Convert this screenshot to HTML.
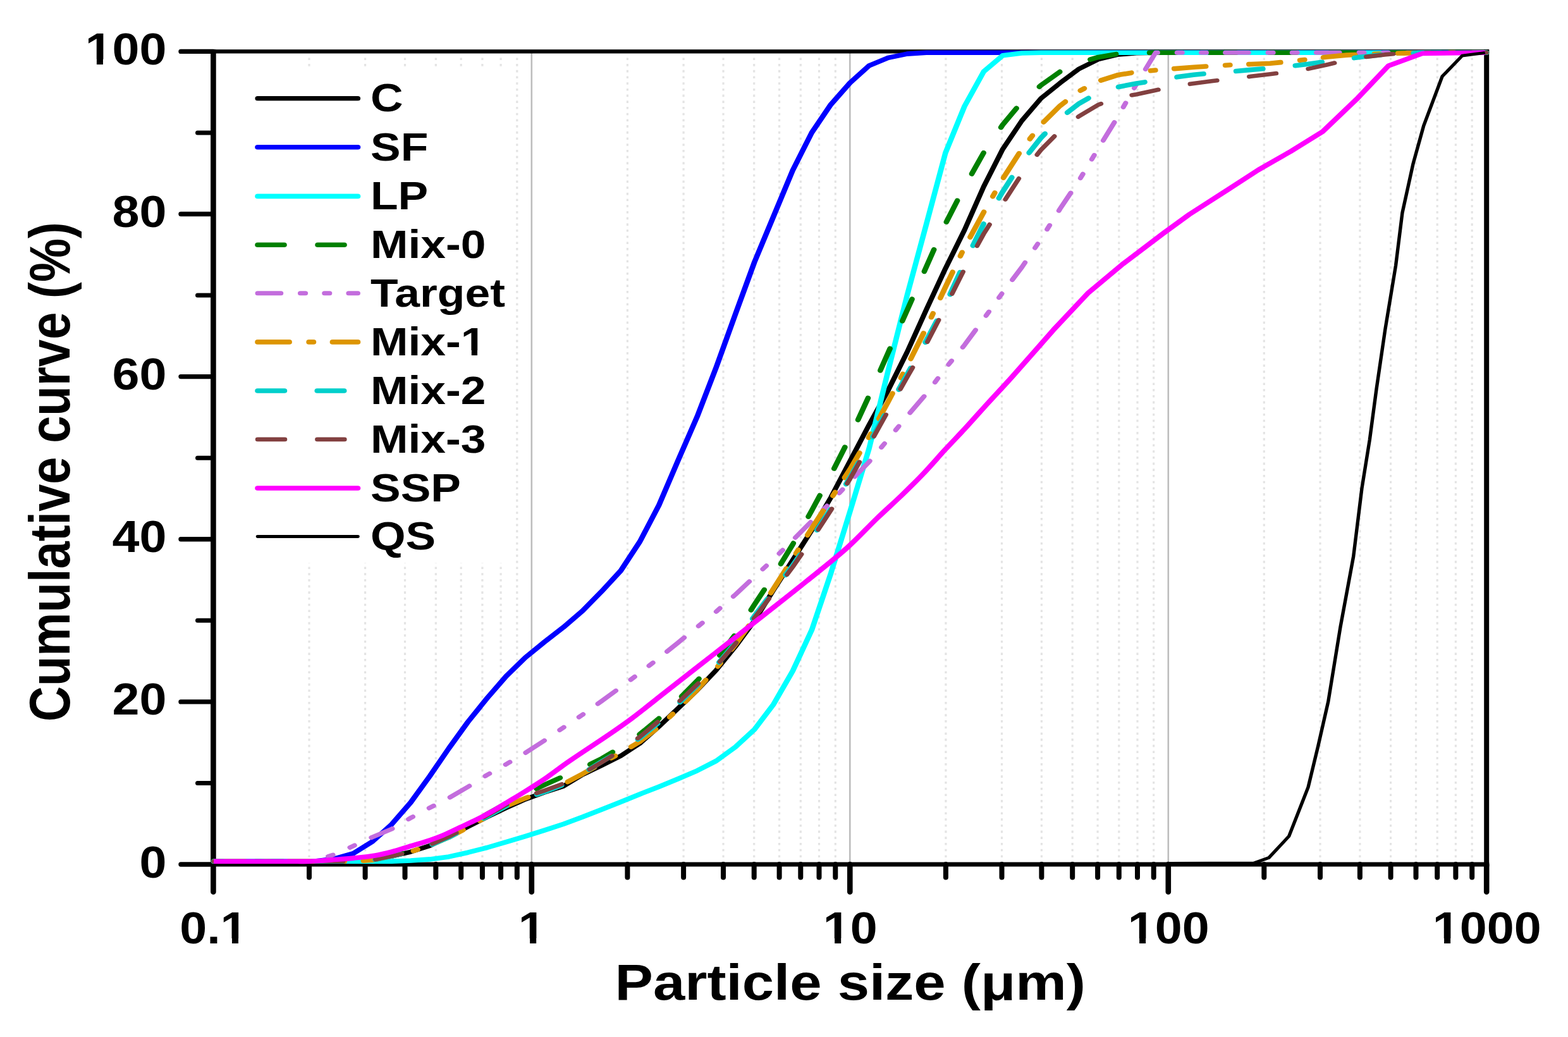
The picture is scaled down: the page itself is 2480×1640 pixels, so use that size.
<!DOCTYPE html><html><head><meta charset="utf-8"><title>Cumulative curve</title>
<style>html,body{margin:0;padding:0;background:#fff;}body{width:2480px;height:1640px;overflow:hidden;}svg{display:block;}text{font-family:"Liberation Sans",Arial,sans-serif;font-weight:bold;fill:#000;}</style></head><body>
<svg xmlns="http://www.w3.org/2000/svg" width="2480" height="1640" viewBox="0 0 2480 1640">
<rect x="0" y="0" width="2480" height="1640" fill="#fff"/>
<path d="M489,91.4 V1363 M577.6,91.4 V1363 M640.5,91.4 V1363 M689.3,91.4 V1363 M729.2,91.4 V1363 M762.9,91.4 V1363 M792.1,91.4 V1363 M817.8,91.4 V1363 M992.4,91.4 V1363 M1081.1,91.4 V1363 M1144,91.4 V1363 M1192.7,91.4 V1363 M1232.6,91.4 V1363 M1266.3,91.4 V1363 M1295.5,91.4 V1363 M1321.3,91.4 V1363 M1495.9,91.4 V1363 M1584.5,91.4 V1363 M1647.4,91.4 V1363 M1696.2,91.4 V1363 M1736.1,91.4 V1363 M1769.8,91.4 V1363 M1799,91.4 V1363 M1824.7,91.4 V1363 M1999.3,91.4 V1363 M2088,91.4 V1363 M2150.9,91.4 V1363 M2199.6,91.4 V1363 M2239.5,91.4 V1363 M2273.2,91.4 V1363 M2302.4,91.4 V1363 M2328.2,91.4 V1363" stroke="#e4e4e4" stroke-width="3.2" stroke-dasharray="3.6 6.1" fill="none"/>
<path d="M840.8,81.4 V1367 M1344.3,81.4 V1367 M1847.8,81.4 V1367" stroke="#bdbdbd" stroke-width="2.6" fill="none"/>
<rect x="345" y="105" width="463" height="785" fill="#fff"/>
<path d="M333.4,81.4 H2355.2" stroke="#000" stroke-width="6.4" fill="none"/>
<path d="M333.4,1367 H2355.2" stroke="#000" stroke-width="7.2" fill="none"/>
<path d="M337.4,78.4 V1370" stroke="#000" stroke-width="8.6" fill="none"/>
<path d="M2351.2,78.4 V1370" stroke="#000" stroke-width="8.0" fill="none"/>
<path d="M337.4,1367 V1410.5 M840.8,1367 V1410.5 M1344.3,1367 V1410.5 M1847.8,1367 V1410.5 M2351.2,1367 V1410.5" stroke="#000" stroke-width="8.6" stroke-linecap="round" fill="none"/>
<path d="M489,1367 V1387.5 M577.6,1367 V1387.5 M640.5,1367 V1387.5 M689.3,1367 V1387.5 M729.2,1367 V1387.5 M762.9,1367 V1387.5 M792.1,1367 V1387.5 M817.8,1367 V1387.5 M992.4,1367 V1387.5 M1081.1,1367 V1387.5 M1144,1367 V1387.5 M1192.7,1367 V1387.5 M1232.6,1367 V1387.5 M1266.3,1367 V1387.5 M1295.5,1367 V1387.5 M1321.3,1367 V1387.5 M1495.9,1367 V1387.5 M1584.5,1367 V1387.5 M1647.4,1367 V1387.5 M1696.2,1367 V1387.5 M1736.1,1367 V1387.5 M1769.8,1367 V1387.5 M1799,1367 V1387.5 M1824.7,1367 V1387.5 M1999.3,1367 V1387.5 M2088,1367 V1387.5 M2150.9,1367 V1387.5 M2199.6,1367 V1387.5 M2239.5,1367 V1387.5 M2273.2,1367 V1387.5 M2302.4,1367 V1387.5 M2328.2,1367 V1387.5" stroke="#000" stroke-width="8.0" stroke-linecap="round" fill="none"/>
<path d="M286,1367 H337.4 M286,1109.9 H337.4 M286,852.8 H337.4 M286,595.6 H337.4 M286,338.5 H337.4 M286,81.4 H337.4" stroke="#000" stroke-width="7.4" stroke-linecap="round" fill="none"/>
<path d="M312.5,1238.4 H337.4 M312.5,981.3 H337.4 M312.5,724.2 H337.4 M312.5,467.1 H337.4 M312.5,210 H337.4" stroke="#000" stroke-width="7.0" stroke-linecap="round" fill="none"/>
<g transform="scale(1.13,1)">
<path d="M299.1,1362.3 L307.5,1362.3 L334.2,1362.3 L361,1362.3 L387.7,1362.3 L414.4,1362.3 L441.2,1362.3 L467.9,1362.3 L494.6,1362.2 L521.3,1360.3 L548.1,1354.2 L574.8,1347.2 L601.5,1337.5 L628.3,1323.4 L655,1307.4 L681.7,1292.1 L708.5,1277.7 L735.2,1264.1 L761.9,1253.2 L788.7,1243.3 L815.4,1225.1 L842.1,1210.5 L868.9,1195.3 L895.6,1175.6 L922.3,1149 L949.1,1120.2 L975.8,1091.5 L1002.5,1059.7 L1029.3,1022.5 L1056,981.8 L1082.7,932.9 L1109.5,885.9 L1136.2,838.4 L1162.9,786.8 L1189.6,729.6 L1216.4,671.9 L1243.1,617.3 L1269.8,556.5 L1296.6,489.7 L1323.3,424.7 L1350,363.8 L1376.8,295.2 L1403.5,235.8 L1430.2,191 L1457,155.6 L1483.7,131.3 L1510.4,108.8 L1537.2,93.9 L1563.9,86.5 L1590.6,83.9 L1617.4,83.3 L1644.1,83.3 L1670.8,83.3 L1697.6,83.3 L1724.3,83.3 L1751,83.3 L1777.7,83.3 L1804.5,83.3 L1831.2,83.3 L1857.9,83.3 L1884.7,83.3 L1911.4,83.3 L1938.1,83.3 L1964.9,83.3 L1991.6,83.3 L2018.3,83.3 L2045.1,83.3 L2071.8,83.3 L2080.5,83.3" stroke="#000000" stroke-width="7.2" fill="none" stroke-linejoin="round"/>
<path d="M299.1,1362.3 L307.5,1362.3 L334.2,1362.3 L361,1362.3 L387.7,1362.3 L414.4,1362.3 L441.2,1362 L467.9,1358.1 L494.6,1349.6 L521.3,1330.9 L548.1,1303.8 L574.8,1269.1 L601.5,1227.5 L628.3,1183.4 L655,1141.6 L681.7,1104.3 L708.5,1069.4 L735.2,1040 L761.9,1015.4 L788.7,991.9 L815.4,966 L842.1,935.3 L868.9,902.5 L895.6,856.5 L922.3,798.9 L949.1,728.1 L975.8,658.9 L1002.5,580.7 L1029.3,496.9 L1056,414.5 L1082.7,342.1 L1109.5,269.5 L1136.2,209.7 L1162.9,165.3 L1189.6,131.2 L1216.4,103.9 L1243.1,91.4 L1269.8,85.1 L1296.6,83.3 L1323.3,83.3 L1350,83.3 L1376.8,83.3 L1403.5,83.3 L1430.2,83.3 L1457,83.3 L1483.7,83.3 L1510.4,83.3 L1537.2,83.3 L1563.9,83.3 L1590.6,83.3 L1617.4,83.3 L1644.1,83.3 L1670.8,83.3 L1697.6,83.3 L1724.3,83.3 L1751,83.3 L1777.7,83.3 L1804.5,83.3 L1831.2,83.3 L1857.9,83.3 L1884.7,83.3 L1911.4,83.3 L1938.1,83.3 L1964.9,83.3 L1991.6,83.3 L2018.3,83.3 L2045.1,83.3 L2071.8,83.3 L2080.5,83.3" stroke="#0000ff" stroke-width="7.6" fill="none" stroke-linejoin="round"/>
<path d="M299.1,1362.3 L307.5,1362.3 L334.2,1362.3 L361,1362.3 L387.7,1362.3 L414.4,1362.3 L441.2,1362.3 L467.9,1362.3 L494.6,1362.3 L521.3,1362.3 L548.1,1362.1 L574.8,1361 L601.5,1358.9 L628.3,1354.9 L655,1348.2 L681.7,1340.5 L708.5,1331.7 L735.2,1322.7 L761.9,1313.2 L788.7,1303.2 L815.4,1292.1 L842.1,1280.3 L868.9,1268.2 L895.6,1256 L922.3,1244.2 L949.1,1231.8 L975.8,1218.8 L1002.5,1203.4 L1029.3,1181.4 L1056,1153.6 L1082.7,1113.8 L1109.5,1061.3 L1136.2,996.3 L1162.9,906.8 L1189.6,809.5 L1216.4,709.5 L1243.1,586.4 L1269.8,466.5 L1296.6,354.5 L1323.3,241.9 L1350,168.1 L1376.8,113.3 L1403.5,87.8 L1430.2,84 L1457,83.3 L1483.7,83.3 L1510.4,83.3 L1537.2,83.3 L1563.9,83.3 L1590.6,83.3 L1617.4,83.3 L1644.1,83.3 L1670.8,83.3 L1697.6,83.3 L1724.3,83.3 L1751,83.3 L1777.7,83.3 L1804.5,83.3 L1831.2,83.3 L1857.9,83.3 L1884.7,83.3 L1911.4,83.3 L1938.1,83.3 L1964.9,83.3 L1991.6,83.3 L2018.3,83.3 L2045.1,83.3 L2071.8,83.3 L2080.5,83.3" stroke="#00ffff" stroke-width="7.6" fill="none" stroke-linejoin="round"/>
<path d="M299.1,1362.3 L307.5,1362.3 L334.2,1362.3 L361,1362.3 L387.7,1362.3 L414.4,1362.3 L441.2,1362.3 L467.9,1362.3 L494.6,1362.2 L521.3,1360 L548.1,1353.1 L574.8,1345.2 L601.5,1334.4 L628.3,1320.8 L655,1304.7 L681.7,1287.5 L708.5,1270.5 L735.2,1255.5 L761.9,1241.3 L788.7,1227.8 L815.4,1214.8 L842.1,1199.7 L868.9,1181.9 L895.6,1161.1 L922.3,1136.3 L949.1,1107 L975.8,1076.6 L1002.5,1044 L1029.3,1003 L1056,956.2 L1082.7,910.5 L1109.5,861.1 L1136.2,807.4 L1162.9,751.2 L1189.6,691.6 L1216.4,626.1 L1243.1,557.9 L1269.8,490.4 L1296.6,421.8 L1323.3,354 L1350,295.2 L1376.8,241.6 L1403.5,197.3 L1430.2,161.2 L1457,134.9 L1483.7,113.4 L1510.4,99.3 L1537.2,90.4 L1563.9,85.3 L1590.6,83.6 L1617.4,83.3 L1644.1,83.3 L1670.8,83.3 L1697.6,83.3 L1724.3,83.3 L1751,83.3 L1777.7,83.3 L1804.5,83.3 L1831.2,83.3 L1857.9,83.3 L1884.7,83.3 L1911.4,83.3 L1938.1,83.3 L1964.9,83.3 L1991.6,83.3 L2018.3,83.3 L2045.1,83.3 L2071.8,83.3 L2080.5,83.3" stroke="#008000" stroke-width="7.6" fill="none" stroke-linejoin="round" stroke-dasharray="37.2 46.9" stroke-linecap="round" stroke-dashoffset="24.8"/>
<path d="M299.1,1362.3 L307.5,1362.3 L334.2,1362.3 L361,1362.3 L387.7,1362.3 L414.4,1362.3 L441.2,1361.2 L467.9,1351.4 L494.6,1337.8 L521.3,1323.8 L548.1,1311.2 L574.8,1293.5 L601.5,1277.5 L628.3,1262 L655,1244.4 L681.7,1225.6 L708.5,1208.6 L735.2,1190.8 L761.9,1171.2 L788.7,1150.5 L815.4,1130.3 L842.1,1108.8 L868.9,1086.6 L895.6,1064.2 L922.3,1040.8 L949.1,1016.3 L975.8,991.8 L1002.5,967.2 L1029.3,940.4 L1056,912.1 L1082.7,884.3 L1109.5,854.4 L1136.2,824.1 L1162.9,794 L1189.6,761.7 L1216.4,730.5 L1243.1,694.7 L1269.8,657.9 L1296.6,622.7 L1323.3,582.5 L1350,545.7 L1376.8,504.6 L1403.5,462.5 L1430.2,422.7 L1457,378.1 L1483.7,330.3 L1510.4,285.2 L1537.2,234.9 L1563.9,185.9 L1590.6,133.2 L1617.4,83.3 L1644.1,83.3 L1670.8,83.3 L1697.6,83.3 L1724.3,83.3 L1751,83.3 L1777.7,83.3 L1804.5,83.3 L1831.2,83.3 L1857.9,83.3 L1884.7,83.3 L1911.4,83.3 L1938.1,83.3 L1964.9,83.3 L1991.6,83.3 L2018.3,83.3 L2045.1,83.3 L2071.8,83.3 L2080.5,83.3" stroke="#c36ddd" stroke-width="7.0" fill="none" stroke-linejoin="round" stroke-dasharray="32.6 27.1 7.3 26.5 7.3 26.5" stroke-linecap="round" stroke-dashoffset="25.7"/>
<path d="M299.1,1362.3 L307.5,1362.3 L334.2,1362.3 L361,1362.3 L387.7,1362.3 L414.4,1362.3 L441.2,1362.3 L467.9,1362.3 L494.6,1362.2 L521.3,1360.3 L548.1,1354.1 L574.8,1347.1 L601.5,1337.1 L628.3,1324.2 L655,1308.6 L681.7,1291.2 L708.5,1274.7 L735.2,1262.4 L761.9,1251.8 L788.7,1240 L815.4,1223.9 L842.1,1206.9 L868.9,1190.8 L895.6,1172.8 L922.3,1149.6 L949.1,1121.4 L975.8,1090.9 L1002.5,1057 L1029.3,1019.4 L1056,977.3 L1082.7,931 L1109.5,883.5 L1136.2,835.6 L1162.9,789 L1189.6,742.4 L1216.4,690.9 L1243.1,635.3 L1269.8,578.5 L1296.6,518.2 L1323.3,454 L1350,391.3 L1376.8,335.8 L1403.5,282.9 L1430.2,236 L1457,197.2 L1483.7,167.3 L1510.4,144.2 L1537.2,128.4 L1563.9,118.8 L1590.6,113.9 L1617.4,111 L1644.1,108.6 L1670.8,106.3 L1697.6,104.3 L1724.3,102.6 L1751,101.5 L1777.7,100.2 L1804.5,97.3 L1831.2,93.8 L1857.9,90 L1884.7,87.1 L1911.4,85.7 L1938.1,84.8 L1964.9,84.1 L1991.6,83.5 L2018.3,83.3 L2045.1,83.3 L2071.8,83.3 L2080.5,83.3" stroke="#dd9500" stroke-width="7.6" fill="none" stroke-linejoin="round" stroke-dasharray="44.4 27.4 6.5 26.5" stroke-linecap="round"/>
<path d="M299.1,1362.3 L307.5,1362.3 L334.2,1362.3 L361,1362.3 L387.7,1362.3 L414.4,1362.3 L441.2,1362.3 L467.9,1362.3 L494.6,1362.2 L521.3,1360.3 L548.1,1354.1 L574.8,1347.1 L601.5,1337.1 L628.3,1324.2 L655,1308.6 L681.7,1291.2 L708.5,1274.7 L735.2,1262.3 L761.9,1252.4 L788.7,1240.9 L815.4,1223.4 L842.1,1204.7 L868.9,1186.8 L895.6,1167.1 L922.3,1142.5 L949.1,1113.4 L975.8,1083.8 L1002.5,1053 L1029.3,1016.5 L1056,974.2 L1082.7,934.4 L1109.5,894.3 L1136.2,850.8 L1162.9,804.7 L1189.6,755.6 L1216.4,701.3 L1243.1,646.3 L1269.8,591.8 L1296.6,538.4 L1323.3,481.6 L1350,415.2 L1376.8,354.1 L1403.5,303.1 L1430.2,256.1 L1457,218 L1483.7,186.8 L1510.4,163.7 L1537.2,146.5 L1563.9,137.8 L1590.6,132 L1617.4,127.2 L1644.1,122.3 L1670.8,118.2 L1697.6,115.5 L1724.3,113.1 L1751,110.4 L1777.7,107.8 L1804.5,104.9 L1831.2,101.3 L1857.9,97 L1884.7,93.2 L1911.4,89.3 L1938.1,86.1 L1964.9,84.4 L1991.6,83.6 L2018.3,83.3 L2045.1,83.3 L2071.8,83.3 L2080.5,83.3" stroke="#00cfcb" stroke-width="7.6" fill="none" stroke-linejoin="round" stroke-dasharray="37.6 45.8" stroke-linecap="round" stroke-dashoffset="23.9"/>
<path d="M299.1,1362.3 L307.5,1362.3 L334.2,1362.3 L361,1362.3 L387.7,1362.3 L414.4,1362.3 L441.2,1362.3 L467.9,1362.3 L494.6,1362.2 L521.3,1360.3 L548.1,1354.1 L574.8,1347.2 L601.5,1336.4 L628.3,1323.1 L655,1307.6 L681.7,1289.7 L708.5,1272.7 L735.2,1260.3 L761.9,1250.4 L788.7,1239.2 L815.4,1223.4 L842.1,1205.5 L868.9,1186.6 L895.6,1165.3 L922.3,1140.1 L949.1,1111.1 L975.8,1082.4 L1002.5,1053.2 L1029.3,1018.2 L1056,977 L1082.7,937.3 L1109.5,896.7 L1136.2,853.3 L1162.9,807.1 L1189.6,757.6 L1216.4,704 L1243.1,649.7 L1269.8,596.2 L1296.6,543.9 L1323.3,485.6 L1350,425.4 L1376.8,370 L1403.5,321.9 L1430.2,275 L1457,237 L1483.7,206.6 L1510.4,183.8 L1537.2,165.7 L1563.9,154.7 L1590.6,149.2 L1617.4,142.7 L1644.1,136.5 L1670.8,132 L1697.6,128.1 L1724.3,124.5 L1751,120.8 L1777.7,117.3 L1804.5,113.5 L1831.2,108.9 L1857.9,102.2 L1884.7,95 L1911.4,90 L1938.1,86.4 L1964.9,83.9 L1991.6,83.3 L2018.3,83.3 L2045.1,83.3 L2071.8,83.3 L2080.5,83.3" stroke="#824040" stroke-width="6.6" fill="none" stroke-linejoin="round" stroke-dasharray="38.1 45.4" stroke-linecap="round" stroke-dashoffset="23.9"/>
<path d="M299.1,1362.3 C338.1,1362.3 377,1362.3 415.9,1362.3 C421.8,1362.3 427.7,1362.5 433.6,1362.2 C443.8,1361.7 453.9,1360.7 464.1,1359.9 C474.3,1359 484.4,1358.2 494.6,1357.1 C504.8,1355.9 515,1354.9 525,1353 C533,1351.5 540.9,1349.3 548.7,1347 C556.7,1344.6 564.5,1341.6 572.4,1338.9 C580.3,1336.2 588.3,1333.8 596.1,1330.9 C604.1,1327.9 612.1,1324.7 619.8,1321.1 C627.9,1317.3 635.6,1312.8 643.5,1308.6 C651.4,1304.4 659.4,1300.5 667.2,1296.1 C675.2,1291.6 683.1,1286.7 690.9,1281.8 C696.7,1278.1 702.3,1274.1 708,1270.2 C716.8,1264.1 725.8,1258.2 734.5,1252 C744.2,1245.1 754,1238.3 763.4,1231 C774.6,1222.3 785.2,1212.7 796.5,1204 C815.2,1189.4 834.5,1175.5 853.3,1161 C864,1152.7 874.6,1144.4 885,1135.6 C900.4,1122.4 915.4,1108.7 930.6,1095.2 C945.9,1081.7 961.1,1068.2 976.4,1054.7 C991.6,1041.2 1006.9,1027.8 1022.1,1014.3 C1037.4,1000.8 1052.6,987.3 1067.8,973.8 C1088.1,955.7 1108.4,937.8 1128.5,919.5 C1147.8,901.9 1167.6,884.6 1186,866 C1200.5,851.4 1213.4,835.2 1227.3,820 C1238.7,807.7 1250.5,795.8 1261.9,783.5 C1272.2,772.2 1282.5,760.8 1292.4,749.1 C1302.8,736.7 1312.6,723.8 1322.8,711.2 C1332.9,698.9 1343.3,686.8 1353.4,674.4 C1362.6,663 1371.6,651.4 1380.8,640 C1392.4,625.6 1404.4,611.3 1415.9,596.8 C1435.6,571.9 1454.9,546.8 1474.4,521.8 L1474.4,521.8 L1523.4,462.9 L1570.8,418.2 L1628.3,369 L1664.8,339 L1718.4,300.2 L1761.2,268.7 L1806.3,239.6 L1851.3,208.1 L1900.6,154.8 L1943.5,103.9 L1990.7,84.5 L2078.6,83.3" stroke="#ff00ff" stroke-width="7.6" fill="none" stroke-linejoin="round"/>
<path d="M1637.2,1365.5 L1754.9,1365 L1775.9,1356.6 L1804.1,1322.5 L1831,1245 L1845,1179.6 L1859.1,1109.5 L1876.1,991.6 L1894.4,880 L1906.2,772 L1917.1,695.5 L1926.5,615.9 L1938.8,521 L1953.6,420 L1962.8,336.5 L1977.9,259 L1992.8,198.4 L2018.6,120.9 L2046.5,88.2 L2078.6,83.3" stroke="#000000" stroke-width="4.8" fill="none" stroke-linejoin="round"/>
</g>
<path transform="scale(1.13,1)" d="M360.6,155.7 H500.9" stroke="#000000" stroke-width="7.2" fill="none" stroke-linecap="round"/>
<path transform="scale(1.13,1)" d="M360.6,232.8 H500.9" stroke="#0000ff" stroke-width="7.6" fill="none" stroke-linecap="round"/>
<path transform="scale(1.13,1)" d="M360.6,310.4 H500.9" stroke="#00ffff" stroke-width="7.6" fill="none" stroke-linecap="round"/>
<path transform="scale(1.13,1)" d="M360.6,387.2 H500.9" stroke="#008000" stroke-width="7.6" fill="none" stroke-linecap="round" stroke-dasharray="37.2 46.9"/>
<path transform="scale(1.13,1)" d="M360.6,463.8 H500.9" stroke="#c36ddd" stroke-width="7.0" fill="none" stroke-linecap="round" stroke-dasharray="32.6 27.1 7.3 26.5 7.3 26.5"/>
<path transform="scale(1.13,1)" d="M360.6,540.9 H500.9" stroke="#dd9500" stroke-width="7.6" fill="none" stroke-linecap="round" stroke-dasharray="44.4 27.4 6.5 26.5"/>
<path transform="scale(1.13,1)" d="M360.6,618 H500.9" stroke="#00cfcb" stroke-width="7.6" fill="none" stroke-linecap="round" stroke-dasharray="37.6 45.8"/>
<path transform="scale(1.13,1)" d="M360.6,694.9 H500.9" stroke="#824040" stroke-width="6.6" fill="none" stroke-linecap="round" stroke-dasharray="38.1 45.4"/>
<path transform="scale(1.13,1)" d="M360.6,772 H500.9" stroke="#ff00ff" stroke-width="7.6" fill="none" stroke-linecap="round"/>
<path transform="scale(1.13,1)" d="M360.6,848.5 H500.9" stroke="#000000" stroke-width="4.8" fill="none" stroke-linecap="round"/>
<g transform="translate(263.5,1387.5) scale(1.1100,1.0000)"><text x="-38.7" y="0" font-size="69.6">0</text>
</g>
<g transform="translate(263.5,1130.4) scale(1.1100,1.0000)"><text x="-77.4" y="0" font-size="69.6">20</text>
</g>
<g transform="translate(263.5,873.3) scale(1.1100,1.0000)"><text x="-77.4" y="0" font-size="69.6">40</text>
</g>
<g transform="translate(263.5,616.1) scale(1.1100,1.0000)"><text x="-77.4" y="0" font-size="69.6">60</text>
</g>
<g transform="translate(263.5,359) scale(1.1100,1.0000)"><text x="-77.4" y="0" font-size="69.6">80</text>
</g>
<g transform="translate(263.5,101.9) scale(1.1100,1.0000)"><text x="-116.1" y="0" font-size="69.6">100</text>
<rect x="-112.73" y="-8.30" width="13.10" height="11.10" fill="#fff"/>
<rect x="-90.58" y="-8.30" width="12.18" height="11.10" fill="#fff"/>
</g>
<g transform="translate(337.9,1492.3) scale(1.1100,1.0000)"><text x="-48.4" y="0" font-size="69.6">0.1</text>
<rect x="13.07" y="-8.30" width="13.10" height="11.10" fill="#fff"/>
<rect x="35.21" y="-8.30" width="12.18" height="11.10" fill="#fff"/>
</g>
<g transform="translate(841.3,1492.3) scale(1.1100,1.0000)"><text x="-19.4" y="0" font-size="69.6">1</text>
<rect x="-15.96" y="-8.30" width="13.10" height="11.10" fill="#fff"/>
<rect x="6.19" y="-8.30" width="12.18" height="11.10" fill="#fff"/>
</g>
<g transform="translate(1344.8,1492.3) scale(1.1100,1.0000)"><text x="-38.7" y="0" font-size="69.6">10</text>
<rect x="-35.31" y="-8.30" width="13.10" height="11.10" fill="#fff"/>
<rect x="-13.16" y="-8.30" width="12.18" height="11.10" fill="#fff"/>
</g>
<g transform="translate(1848.2,1492.3) scale(1.1100,1.0000)"><text x="-58.1" y="0" font-size="69.6">100</text>
<rect x="-54.66" y="-8.30" width="13.10" height="11.10" fill="#fff"/>
<rect x="-32.52" y="-8.30" width="12.18" height="11.10" fill="#fff"/>
</g>
<g transform="translate(2351.7,1492.3) scale(1.1100,1.0000)"><text x="-77.4" y="0" font-size="69.6">1000</text>
<rect x="-74.02" y="-8.30" width="13.10" height="11.10" fill="#fff"/>
<rect x="-51.87" y="-8.30" width="12.18" height="11.10" fill="#fff"/>
</g>
<g transform="translate(1344.8,1580.6) scale(1.1470,1.0000)"><text x="-324.5" y="0" font-size="78.9">Particle size (μm)</text>
</g>
<g transform="translate(110,746.1) rotate(-90) scale(1.0000,1.1800)"><text x="-395.1" y="0" font-size="77.7">Cumulative curve (%)</text>
</g>
<g transform="translate(586,176.4) scale(1.1300,1.0000)"><text x="0" y="0" font-size="63.2">C</text>
</g>
<g transform="translate(586,253.5) scale(1.1300,1.0000)"><text x="0" y="0" font-size="63.2">SF</text>
</g>
<g transform="translate(586,331.1) scale(1.1300,1.0000)"><text x="0" y="0" font-size="63.2">LP</text>
</g>
<g transform="translate(586,407.9) scale(1.1300,1.0000)"><text x="0" y="0" font-size="63.2">Mix-0</text>
</g>
<g transform="translate(586,484.5) scale(1.1300,1.0000)"><text x="0" y="0" font-size="63.2">Target</text>
</g>
<g transform="translate(586,561.6) scale(1.1300,1.0000)"><text x="0" y="0" font-size="63.2">Mix-1</text>
<rect x="129.49" y="-7.65" width="11.91" height="10.45" fill="#fff"/>
<rect x="149.57" y="-7.65" width="11.08" height="10.45" fill="#fff"/>
</g>
<g transform="translate(586,638.7) scale(1.1300,1.0000)"><text x="0" y="0" font-size="63.2">Mix-2</text>
</g>
<g transform="translate(586,715.6) scale(1.1300,1.0000)"><text x="0" y="0" font-size="63.2">Mix-3</text>
</g>
<g transform="translate(586,792.7) scale(1.1300,1.0000)"><text x="0" y="0" font-size="63.2">SSP</text>
</g>
<g transform="translate(586,869.2) scale(1.1300,1.0000)"><text x="0" y="0" font-size="63.2">QS</text>
</g>
</svg></body></html>
